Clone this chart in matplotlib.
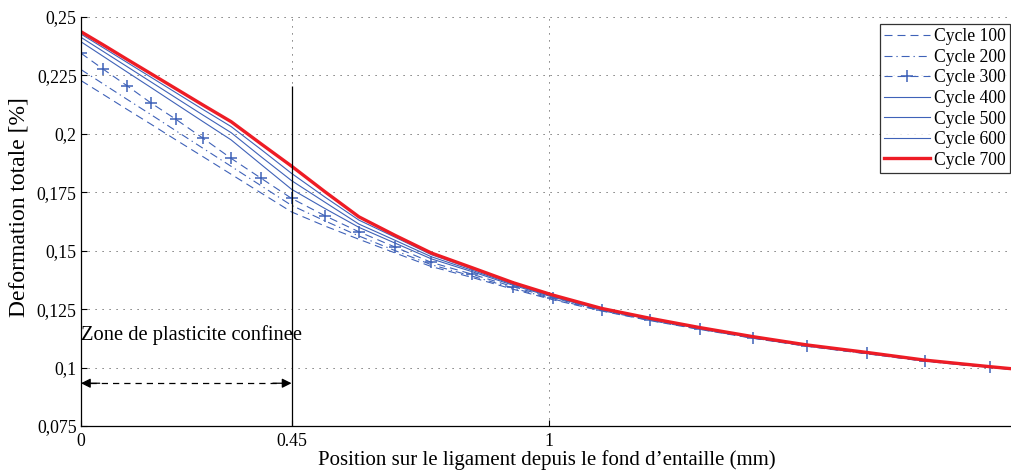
import matplotlib
matplotlib.use("Agg")
import matplotlib.pyplot as plt

plt.rcParams['font.family'] = ['Liberation Serif', 'DejaVu Serif']

# Mesh positions along the ligament (mm)
x = [0, 0.048, 0.099, 0.149, 0.203, 0.261, 0.321, 0.385, 0.450, 0.521, 0.594,
     0.672, 0.749, 0.835, 0.924, 1.009, 1.113, 1.216, 1.323, 1.437, 1.551,
     1.679, 1.803, 1.942, 2.0]

cycle100 = [0.2228, 0.2168, 0.2104, 0.2042, 0.1974, 0.1902, 0.1827, 0.1747, 0.1666,
            0.1606, 0.1549, 0.1490, 0.1432, 0.1386, 0.1335, 0.1290, 0.1242, 0.1201,
            0.1163, 0.1125, 0.1091, 0.1059, 0.1027, 0.1000, 0.0990]
cycle200 = [0.2275, 0.2213, 0.2147, 0.2083, 0.2013, 0.1938, 0.1861, 0.1778, 0.1694,
            0.1628, 0.1563, 0.1500, 0.1440, 0.1392, 0.1340, 0.1293, 0.1244, 0.1202,
            0.1164, 0.1126, 0.1092, 0.1060, 0.1028, 0.1001, 0.0991]
cycle300 = [0.2345, 0.2276, 0.2205, 0.2133, 0.2062, 0.1981, 0.1895, 0.1810, 0.1724,
            0.1650, 0.1581, 0.1515, 0.1450, 0.1400, 0.1346, 0.1297, 0.1246, 0.1204,
            0.1166, 0.1128, 0.1093, 0.1061, 0.1029, 0.1001, 0.0991]
cycle400 = [0.2394, 0.2331, 0.2264, 0.2199, 0.2128, 0.2052, 0.1974, 0.1869, 0.1763,
            0.1681, 0.1600, 0.1532, 0.1465, 0.1411, 0.1352, 0.1301, 0.1248, 0.1206,
            0.1167, 0.1128, 0.1093, 0.1062, 0.1029, 0.1002, 0.0991]
cycle500 = [0.2413, 0.2352, 0.2287, 0.2223, 0.2154, 0.2080, 0.2005, 0.1902, 0.1800,
            0.1708, 0.1614, 0.1544, 0.1474, 0.1417, 0.1356, 0.1304, 0.1250, 0.1208,
            0.1169, 0.1129, 0.1094, 0.1062, 0.1030, 0.1002, 0.0992]
cycle600 = [0.2427, 0.2368, 0.2305, 0.2243, 0.2176, 0.2104, 0.2031, 0.1933, 0.1831,
            0.1730, 0.1631, 0.1557, 0.1483, 0.1423, 0.1360, 0.1307, 0.1251, 0.1209,
            0.1170, 0.1130, 0.1095, 0.1063, 0.1031, 0.1003, 0.0992]
cycle700 = [0.2437, 0.2380, 0.2318, 0.2258, 0.2193, 0.2123, 0.2052, 0.1957, 0.1862,
            0.1753, 0.1645, 0.1565, 0.1490, 0.1428, 0.1363, 0.1310, 0.1253, 0.1211,
            0.1171, 0.1132, 0.1097, 0.1065, 0.1032, 0.1004, 0.0993]

labels = ['Cycle 100', 'Cycle 200', 'Cycle 300', 'Cycle 400', 'Cycle 500',
          'Cycle 600', 'Cycle 700']
xticks = [0, 0.45, 1]
xticklabels = ['0', '0.45', '1']
yticks = [0.075, 0.1, 0.125, 0.15, 0.175, 0.2, 0.225, 0.25]
yticklabels = ['0,075', '0,1', '0,125', '0,15', '0,175', '0,2', '0,225', '0,25']

blue = '#3f62b8'
red = '#ee1c25'

fig = plt.figure(figsize=(10.12, 4.72), dpi=100)
ax = fig.add_axes([81 / 1012, 46 / 472, 1 - 81 / 1012, 409 / 472])

lw_b = 0.8
ax.plot(x, cycle100, color=blue, lw=lw_b, dashes=(7.2, 4.5), label=labels[0])
ax.plot(x, cycle200, color=blue, lw=lw_b, dashes=(7.2, 3.5, 1.2, 3.5), label=labels[1])
ax.plot(x, cycle300, color=blue, lw=lw_b, dashes=(7.2, 4.5), marker='+',
        markersize=8, markeredgewidth=1.1, label=labels[2])
ax.plot(x, cycle400, color=blue, lw=lw_b, label=labels[3])
ax.plot(x, cycle500, color=blue, lw=lw_b, label=labels[4])
ax.plot(x, cycle600, color=blue, lw=lw_b, label=labels[5])
ax.plot(x, cycle700, color=red, lw=2.4, label=labels[6])

ax.set_xlim(0, 1.99)
ax.set_ylim(0.075, 0.25)
ax.set_xticks(xticks)
ax.set_xticklabels(xticklabels)
ax.set_yticks(yticks)
ax.set_yticklabels(yticklabels)
ax.tick_params(direction='in', length=4, width=0.8, labelsize=12.8, colors='black')
ax.tick_params(axis='x', pad=5)
ax.tick_params(axis='y', pad=3)

ax.grid(True, color='0.35', lw=0.7, dashes=(1.2, 6))
ax.set_axisbelow(True)
for s in ['top', 'right']:
    ax.spines[s].set_visible(False)
for s in ['left', 'bottom']:
    ax.spines[s].set_linewidth(0.9)

ax.set_xlabel("Position sur le ligament depuis le fond d\u2019entaille (mm)",
              fontsize=15, labelpad=0)
ax.set_ylabel("Deformation totale [%]", fontsize=17)
ax.yaxis.set_label_coords(-51 / 931, (426 - 207.5) / 409)

# Zone annotation
ax.vlines(0.45, 0.075, 0.2205, color='black', lw=0.9)
ax.text(0.0, 0.1118, "Zone de plasticite confinee", fontsize=14.8, ha='left',
        va='baseline')
ya = 0.0933
ax.plot([0.02, 0.43], [ya, ya], color='black', lw=0.9, dashes=(5, 4))
ax.annotate('', xy=(0.0, ya), xytext=(0.04, ya),
            arrowprops=dict(arrowstyle='-|>', color='black', lw=0.9,
                            mutation_scale=14, shrinkA=0, shrinkB=0))
ax.annotate('', xy=(0.45, ya), xytext=(0.41, ya),
            arrowprops=dict(arrowstyle='-|>', color='black', lw=0.9,
                            mutation_scale=14, shrinkA=0, shrinkB=0))

leg = ax.legend(loc='upper right', bbox_to_anchor=(1.0 - 2 / 931, 1.0 - 7 / 409),
                fontsize=12.7, frameon=True, fancybox=False, handlelength=2.6,
                handletextpad=0.2, labelspacing=0.2, borderpad=0.25,
                borderaxespad=0)
leg.get_frame().set_edgecolor('black')
leg.get_frame().set_linewidth(0.9)

fig.savefig('out.png', dpi=100)
